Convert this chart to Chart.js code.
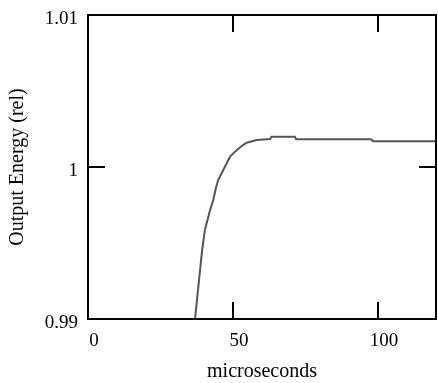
<!DOCTYPE html>
<html>
<head>
<meta charset="utf-8">
<script src="https://cdn.jsdelivr.net/npm/chart.js@4/dist/chart.umd.min.js"></script>
<style>
  body { margin: 0; background: #fff; }
  canvas { display: block; }
</style>
</head>
<body>
<canvas id="chart" width="438" height="383"></canvas>
<script>
// Datos
const timeUs = [36.9, 39.3, 40.3, 42.1, 43.2, 44.1, 44.9, 47.2, 48.4, 49.0, 50.7, 53.0, 54.7, 58.2, 62.8, 63.3, 71.3, 71.8, 97.6, 98.3, 120];
const energy = [0.9900, 0.99443, 0.99586, 0.99717, 0.99783, 0.99862, 0.99914, 1.00002, 1.00046, 1.00068, 1.00101, 1.00138, 1.00160, 1.00178, 1.00184, 1.00199, 1.00199, 1.00182, 1.00182, 1.00169, 1.00169];
const xTicks = [0, 50, 100];
const yTicks = [0.99, 1, 1.01];

const serif = 'Liberation Serif';

// Marco y marcas hacia dentro
const framePlugin = {
    id: 'frame',
    afterDraw(chart) {
        const ctx = chart.ctx;
        const a = chart.chartArea;
        const len = 17;
        ctx.save();
        ctx.strokeStyle = '#000';
        ctx.lineWidth = 2;
        ctx.strokeRect(a.left, a.top, a.right - a.left, a.bottom - a.top);
        ctx.beginPath();
        chart.scales.x.ticks.forEach(t => {
            const px = chart.scales.x.getPixelForValue(t.value);
            ctx.moveTo(px, a.bottom);
            ctx.lineTo(px, a.bottom - len);
            ctx.moveTo(px, a.top);
            ctx.lineTo(px, a.top + len);
        });
        chart.scales.y.ticks.forEach(t => {
            const py = chart.scales.y.getPixelForValue(t.value);
            ctx.moveTo(a.left, py);
            ctx.lineTo(a.left + len, py);
            ctx.moveTo(a.right, py);
            ctx.lineTo(a.right - len, py);
        });
        ctx.stroke();
        ctx.restore();
    }
};

new Chart(document.getElementById('chart').getContext('2d'), {
    type: 'line',
    data: {
        datasets: [{
            data: timeUs.map((x, i) => ({ x: x, y: energy[i] })),
            borderColor: '#555555',
            borderWidth: 2,
            pointRadius: 0,
            tension: 0,
            fill: false
        }]
    },
    options: {
        responsive: false,
        animation: false,
        layout: { padding: { top: 15, right: 2, left: 0, bottom: 0 } },
        plugins: {
            legend: { display: false },
            tooltip: { enabled: false }
        },
        scales: {
            x: {
                type: 'linear',
                min: 0,
                max: 120,
                afterBuildTicks: s => { s.ticks = xTicks.map(v => ({ value: v })); },
                afterFit: s => { s.height = 64; s.paddingLeft = 0; s.paddingRight = 0; },
                grid: { display: false, drawTicks: false },
                border: { display: false },
                ticks: {
                    padding: 11,
                    labelOffset: 6,
                    maxRotation: 0,
                    color: '#000',
                    font: { family: serif, size: 19 },
                    callback: v => String(v)
                },
                title: {
                    display: true,
                    text: 'microseconds',
                    color: '#000',
                    font: { family: serif, size: 20, lineHeight: 1 },
                    padding: { top: 0, bottom: 1 }
                }
            },
            y: {
                type: 'linear',
                min: 0.99,
                max: 1.01,
                afterBuildTicks: s => { s.ticks = yTicks.map(v => ({ value: v })); },
                afterFit: s => { s.width = 88; s.paddingTop = 0; s.paddingBottom = 0; },
                grid: { display: false, drawTicks: false },
                border: { display: false },
                ticks: {
                    padding: 10,
                    labelOffset: 4.5,
                    color: '#000',
                    font: { family: serif, size: 19 },
                    callback: v => String(Number(v.toFixed(2)))
                },
                title: {
                    display: true,
                    text: 'Output Energy (rel)',
                    color: '#000',
                    font: { family: serif, size: 20, lineHeight: 1 },
                    padding: { top: 7.5, bottom: 0 }
                }
            }
        }
    },
    plugins: [framePlugin]
});
</script>
</body>
</html>
